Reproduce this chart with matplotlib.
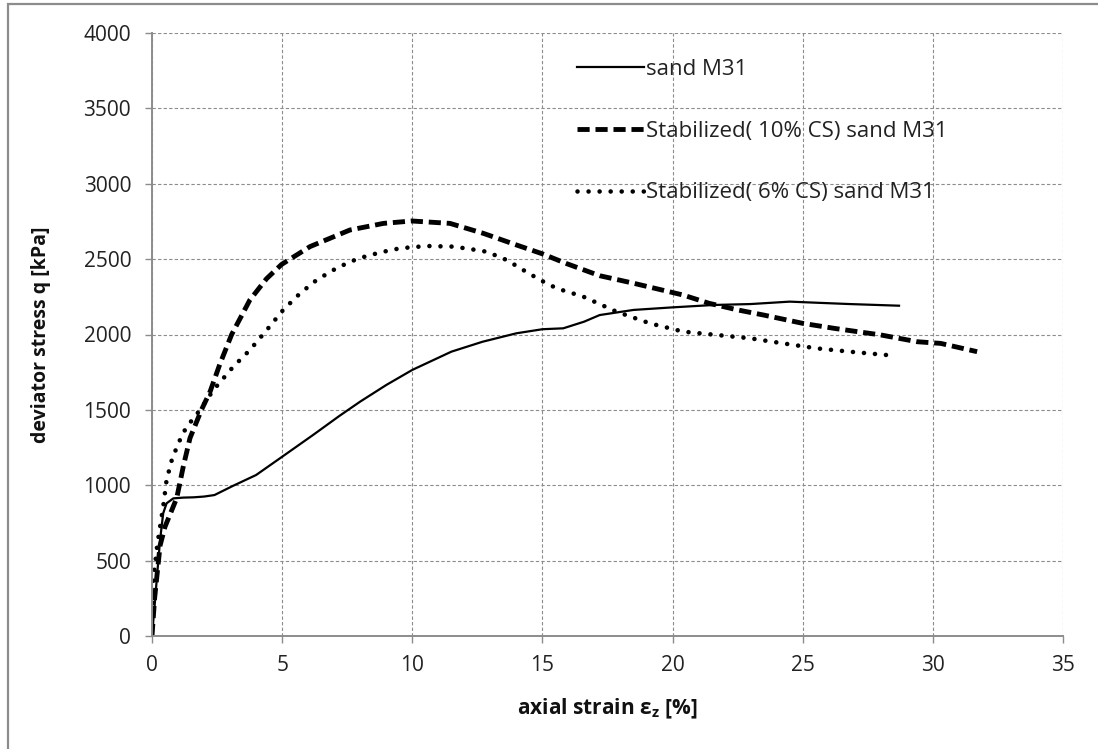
import matplotlib
matplotlib.use("Agg")
import matplotlib.pyplot as plt
from matplotlib.patches import Rectangle

plt.rcParams['font.family'] = ['Open Sans', 'DejaVu Sans']

# sand M31
strain_sand = [0, 0.1, 0.18, 0.31, 0.43, 0.56, 0.82, 1.2, 1.6, 2.0, 2.4, 3.1, 4.0, 5.0, 6.2,
               7.2, 8.0, 9.0, 10.0, 11.5, 12.7, 14.0, 15.0, 15.8, 16.6, 17.2, 18.5, 20.0,
               21.6, 23.0, 24.5, 25.5, 26.8, 28.7]
q_sand = [0, 200, 371, 637, 814, 880, 913, 918, 920, 925, 935, 995, 1068, 1189, 1335,
          1460, 1555, 1665, 1765, 1886, 1952, 2008, 2035, 2041, 2085, 2129, 2163, 2180,
          2196, 2202, 2218, 2211, 2202, 2191]

# stabilized, 10% CS
strain_cs10 = [0, 0.1, 0.31, 0.5, 0.95, 1.2, 1.46, 1.9, 2.23, 2.6, 3.06, 3.76, 4.4, 4.98,
               6.07, 7.6, 8.89, 9.98, 11.45, 12.73, 14.0, 15.0, 15.9, 17.2, 18.5, 20.4,
               21.4, 22.5, 23.5, 25.0, 26.2, 28.0, 29.4, 30.3, 31.7]
q_cs10 = [0, 250, 600, 725, 915, 1123, 1313, 1500, 1620, 1800, 2000, 2229, 2370, 2465,
          2583, 2693, 2737, 2753, 2737, 2671, 2594, 2535, 2472, 2390, 2340, 2262,
          2207, 2163, 2129, 2074, 2041, 1997, 1952, 1941, 1886]

# stabilized, 6% CS
strain_cs6 = [0, 0.05, 0.2, 0.31, 0.43, 0.56, 0.76, 1.01, 1.33, 1.6, 1.84, 2.36, 3.12, 3.76,
              4.41, 5.04, 5.69, 6.33, 6.97, 7.61, 8.25, 8.89, 9.53, 10.55, 11.58, 12.22,
              12.86, 13.63, 14.26, 14.91, 15.55, 16.57, 17.85, 19.13, 20.41, 21.69, 22.97,
              24.25, 25.54, 26.81, 28.22]
q_cs6 = [0, 371, 600, 725, 858, 1035, 1167, 1278, 1389, 1444, 1499, 1632, 1786, 1897,
         2030, 2163, 2273, 2362, 2428, 2483, 2521, 2549, 2572, 2587, 2583, 2567,
         2549, 2494, 2428, 2362, 2306, 2251, 2151, 2074, 2019, 1997, 1975,
         1941, 1908, 1886, 1864]

labels = ['sand M31', 'Stabilized( 10% CS) sand M31', 'Stabilized( 6% CS) sand M31']

fig = plt.figure(figsize=(10.98, 7.49), dpi=100)
ax = fig.add_axes([152 / 1098, 1 - 636 / 749, (1063 - 152) / 1098, (636 - 33) / 749])

# outer chart frame
fig.patches.append(Rectangle((8 / 1098, -0.1), 1.2, 1.1 - 4 / 749, transform=fig.transFigure,
                             fill=False, edgecolor='#8c8c8c', linewidth=1.6))

ax.plot(strain_sand, q_sand, color='black', linewidth=1.6, label=labels[0])
ax.plot(strain_cs10, q_cs10, color='black', linewidth=3.5, linestyle=(0, (2.5, 1.2)),
        dash_capstyle='butt', label=labels[1])
ax.plot(strain_cs6, q_cs6, color='black', linewidth=3.3, linestyle=(0, (0.01, 2.4)),
        dash_capstyle='round', label=labels[2])

ax.set_xlim(0, 35)
ax.set_ylim(0, 4000)
ax.set_xticks(range(0, 36, 5))
ax.set_yticks(range(0, 4001, 500))
ax.grid(True, linestyle=(0, (3, 2)), color='#8c8c8c', linewidth=0.8)
ax.set_axisbelow(True)

for side in ['top', 'right']:
    ax.spines[side].set_visible(False)
for side in ['left', 'bottom']:
    ax.spines[side].set_color('#8c8c8c')
    ax.spines[side].set_linewidth(1.4)

ax.tick_params(axis='both', direction='out', length=5, width=1, color='#8c8c8c',
               labelsize=15, labelcolor='#222222')
ax.tick_params(axis='y', pad=10)
ax.tick_params(axis='x', pad=9)

ax.set_xlabel('axial strain ε$_\\mathregular{z}$ [%]', fontsize=15, fontweight='bold',
              color='#111111', labelpad=15)
ax.set_ylabel('deviator stress q [kPa]', fontsize=14, fontweight='bold', color='#111111',
              labelpad=23)

ax.legend(loc='upper left', bbox_to_anchor=(0.445, 0.99), frameon=False, fontsize=16,
          handlelength=3.0, handletextpad=0.1, labelspacing=1.83, labelcolor='#222222')

fig.savefig('out.png', dpi=100)
